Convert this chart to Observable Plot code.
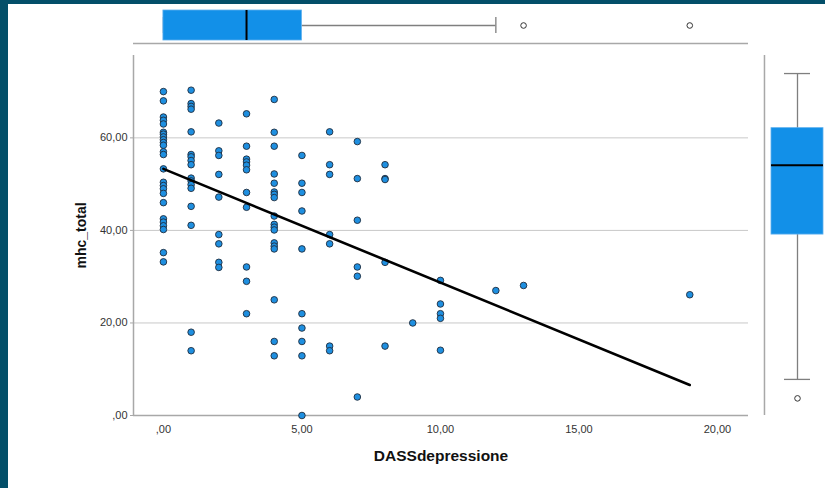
<!DOCTYPE html>
<html><head><meta charset="utf-8">
<script src="https://cdn.jsdelivr.net/npm/d3@7"></script>
<script src="https://cdn.jsdelivr.net/npm/@observablehq/plot@0.6"></script>
<style>
html,body{margin:0;padding:0;background:#fff;}
#chart{position:relative;width:825px;height:488px;overflow:hidden;background:#fff;font-family:"Liberation Sans",Arial,sans-serif;}
#chart svg{position:absolute;left:0;top:0;background:transparent;}
.band{position:absolute;background:#034f69;z-index:5;}
</style></head><body>
<div id="chart"><div class="band" style="left:0;top:0;width:825px;height:4px"></div><div class="band" style="left:0;top:0;width:8px;height:488px"></div></div>
<script>
// Scatter data: DASSdepressione (x) and mhc_total (y)
const dassValues = [
  0,0,0,0,0,0,0,0,0,0,0,0,0,0,0,0,0,0,0,0,0,0,0,0,0,
  1,1,1,1,1,1,1,1,1,1,1,1,1,1,1,1,1,
  2,2,2,2,2,2,2,2,2,
  3,3,3,3,3,3,3,3,3,3,3,
  4,4,4,4,4,4,4,4,4,4,4,4,4,4,4,4,4,4,
  5,5,5,5,5,5,5,5,5,5,
  6,6,6,6,6,6,6,
  7,7,7,7,7,7,
  8,8,8,8,8,
  9,
  10,10,10,10,10,
  12,13,19
];
const mhcValues = [
  70,68,64.5,63.8,63,61.2,60.8,60.2,59.6,59,58.4,57,56.4,53.3,50.4,49.7,49,48,46,42.5,41.8,41,40.2,35.2,33.2,
  70.3,67.4,66.8,66.2,61.3,56.4,55.9,55.1,54.2,51.3,50.7,49.9,49.1,45.2,41.1,18,14,
  63.2,57.2,56.2,52.1,47.2,39.1,37.1,33.1,32,
  65.2,58.2,55.4,54.8,54.1,53.1,48.2,45,32.1,29,22,
  68.3,61.2,58.2,52.2,50.2,48.3,47.8,47.1,43.1,41.3,40.7,40.1,37.3,36.6,36,25,16,12.9,
  56.2,50.2,48.2,44.2,36,22,18.9,16,12.9,0,
  61.3,54.2,52.1,39.1,37.1,15,14,
  59.2,51.2,42.2,32.1,30.1,4,
  54.2,51.2,51,33.1,15,
  20,
  29.2,24.1,22,21,14.1,
  27,28.1,26.1
];
// Fit line
const fitX = [0, 19];
const fitY = [53.3, 6.6];
// Marginal boxplot statistics: [lower whisker, Q1, median, Q3, upper whisker]
const dassBoxStats = [0, 0, 3, 5, 12];
const dassOutliers = [13, 19];
const mhcBoxStats = [7.8, 39.1, 54.1, 62.1, 73.9];
const mhcOutliers = [3.7];
// Ticks and titles
const xTicks = [0, 5, 10, 15, 20];
const yTicks = [0, 20, 40, 60];
const xTitle = "DASSdepressione";
const yTitle = "mhc_total";

const xDomain = [-1.08, 21.12];
const yDomain = [0, 77.8];
const boxFill = "#1290e8";
const whisker = "#7f7f7f";
const axisGray = "#a8a8a8";
const fmt = v => { const s = v.toFixed(2).replace(".", ","); return s.startsWith("0,") ? s.slice(1) : s; };
const style = {background: "transparent", fontFamily: "'Liberation Sans', Arial, sans-serif", color: "#333", overflow: "visible"};

const points = dassValues.map((d, i) => ({x: d, y: mhcValues[i]}));
const fit = fitX.map((d, i) => ({x: d, y: fitY[i]}));

const main = Plot.plot({
  width: 825, height: 488,
  marginLeft: 133, marginRight: 77, marginTop: 55, marginBottom: 73,
  x: {domain: xDomain},
  y: {domain: yDomain},
  style,
  marks: [
    Plot.gridY(yTicks.filter(v => v > 0), {stroke: "#c9c9c9", strokeOpacity: 1, strokeWidth: 1}),
    Plot.ruleX([xDomain[0]], {stroke: axisGray, strokeWidth: 1.5}),
    Plot.ruleY([0], {stroke: axisGray, strokeWidth: 1.5}),
    Plot.axisX({ticks: xTicks, tickFormat: fmt, tickSize: 0, tickPadding: 10, label: null, fontSize: 11}),
    Plot.axisY({ticks: yTicks, tickFormat: fmt, tickSize: 3, tickPadding: 3, label: null, fontSize: 11, stroke: axisGray}),
    Plot.dot(points, {x: "x", y: "y", r: 3.3, fill: "#1e8fe0", stroke: "#1f2d3d", strokeWidth: 0.9}),
    Plot.line(fit, {x: "x", y: "y", stroke: "black", strokeWidth: 2.6}),
    Plot.text([xTitle], {frameAnchor: "bottom", dy: 41, textAnchor: "middle", lineAnchor: "middle", fontSize: 15.5, fontWeight: "bold", fill: "#111"}),
    Plot.text([yTitle], {frameAnchor: "left", dx: -52, rotate: -90, textAnchor: "middle", lineAnchor: "middle", fontSize: 14, fontWeight: "bold", fill: "#111"})
  ]
});

const topBox = Plot.plot({
  width: 825, height: 50,
  marginLeft: 133, marginRight: 77, marginTop: 10, marginBottom: 10,
  x: {domain: xDomain, axis: null},
  y: {domain: [0, 1], axis: null},
  style,
  marks: [
    Plot.ruleY([-0.1], {stroke: axisGray, strokeWidth: 1.5}),
    Plot.ruleY([0.5], {x1: () => dassBoxStats[3], x2: () => dassBoxStats[4], stroke: whisker, strokeWidth: 1.3}),
    Plot.ruleX([dassBoxStats[0], dassBoxStats[4]], {y1: 0.23, y2: 0.77, stroke: whisker, strokeWidth: 1.3}),
    Plot.rect([0], {x1: () => dassBoxStats[1], x2: () => dassBoxStats[3], y1: () => 0, y2: () => 1, fill: boxFill, stroke: "#5fb0ee", strokeWidth: 0.8}),
    Plot.ruleX([dassBoxStats[2]], {y1: 0, y2: 1, stroke: "black", strokeWidth: 2}),
    Plot.dot(dassOutliers, {x: d => d, y: () => 0.5, r: 2.8, fill: "white", stroke: "#333", strokeWidth: 1})
  ]
});

const rightBox = Plot.plot({
  width: 825, height: 488,
  marginLeft: 771, marginRight: 2, marginTop: 55, marginBottom: 73,
  x: {domain: [0, 1], axis: null},
  y: {domain: yDomain, axis: null},
  style,
  marks: [
    Plot.ruleX([-0.135], {stroke: axisGray, strokeWidth: 1.5}),
    Plot.ruleX([0.5], {y1: () => mhcBoxStats[0], y2: () => mhcBoxStats[4], stroke: whisker, strokeWidth: 1.3}),
    Plot.ruleY([mhcBoxStats[0], mhcBoxStats[4]], {x1: 0.25, x2: 0.75, stroke: whisker, strokeWidth: 1.3}),
    Plot.rect([0], {x1: () => 0, x2: () => 1, y1: () => mhcBoxStats[1], y2: () => mhcBoxStats[3], fill: boxFill, stroke: "#5fb0ee", strokeWidth: 0.8}),
    Plot.ruleY([mhcBoxStats[2]], {x1: 0, x2: 1, stroke: "black", strokeWidth: 2}),
    Plot.dot(mhcOutliers, {x: () => 0.5, y: d => d, r: 2.8, fill: "white", stroke: "#333", strokeWidth: 1})
  ]
});

const chart = document.getElementById("chart");
chart.appendChild(main);
chart.appendChild(topBox);
chart.appendChild(rightBox);
</script>
</body></html>
